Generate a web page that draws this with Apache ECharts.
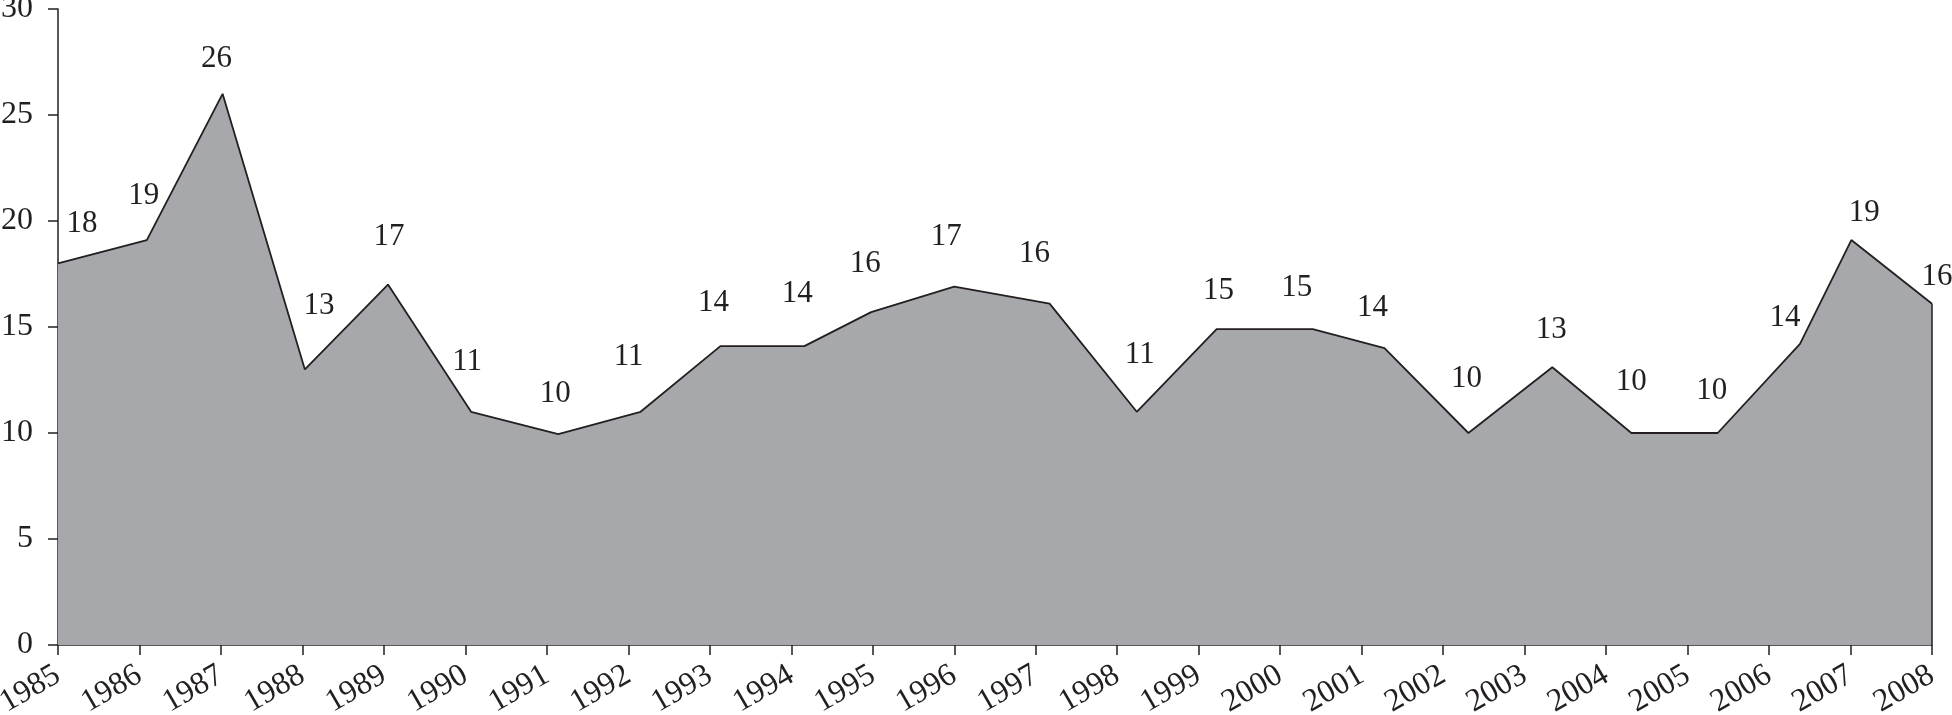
<!DOCTYPE html>
<html>
<head>
<meta charset="utf-8">
<script src="https://cdn.jsdelivr.net/npm/echarts@6/dist/echarts.min.js"></script>
<style>
html,body{margin:0;padding:0;background:#fff;}
#c{width:1952px;height:715px;}
</style>
</head>
<body>
<div id="c"></div>
<script>
// Year positions of each plotted point
const pointYears = [1985, 1986.09, 1987.02, 1988.03, 1989.05, 1990.07, 1991.14, 1992.15, 1993.13, 1994.16, 1994.98, 1996.0, 1997.17, 1998.24, 1999.22, 2000.40, 2001.28, 2002.31, 2003.34, 2004.31, 2005.37, 2006.38, 2007.01, 2008];
// Plotted values
const values = [18.0, 19.1, 26.0, 13.0, 17.0, 11.0, 9.95, 11.0, 14.1, 14.1, 15.7, 16.9, 16.1, 11.0, 14.9, 14.9, 14.0, 10.0, 13.1, 10.0, 10.0, 14.2, 19.1, 16.1];
// Printed value labels
const labels = ['18','19','26','13','17','11','10','11','14','14','16','17','16','11','15','15','14','10','13','10','10','14','19','16'];
// Axis ticks
const xMin = 1985, xMax = 2008, xStep = 1;
const yMin = 0, yMax = 30, yStep = 5;

// Layout only: small hand nudges (px) of the printed labels, as typeset in the original
const labelNudges = [[24,2],[-3,-3],[-6,7],[14,-22],[1,-6],[-4,-8],[-3,1],[-12,-13],[-7,-2],[-7,-11],[-6,-7],[-8,-8],[-15,-8],[3,-15],[2,3],[-16,0],[-12,1],[-2,-13],[-1,4],[0,-10],[-6,-1],[-15,15],[13,14],[5,15]];

const FONT = '"Liberation Serif", "Times New Roman", serif';
const INK = '#231f20';

const seriesData = pointYears.map((x, i) => ({
  value: [x, values[i]],
  label: { offset: labelNudges[i] }
}));

const chart = echarts.init(document.getElementById('c'), null, { renderer: 'canvas' });
chart.setOption({
  animation: false,
  backgroundColor: '#ffffff',
  grid: { left: 58, right: 20, top: 9, bottom: 70, containLabel: false, outerBoundsMode: 'none' },
  xAxis: {
    type: 'value',
    min: xMin, max: xMax, interval: xStep,
    axisLine: { show: true, onZero: false, lineStyle: { color: INK, width: 1.5 } },
    axisTick: { show: true, inside: false, length: 10, lineStyle: { color: INK, width: 1.5 } },
    splitLine: { show: false },
    axisLabel: {
      rotate: 30, margin: 28,
      fontFamily: FONT, fontSize: 32, color: INK,
      formatter: v => String(v)
    }
  },
  yAxis: {
    type: 'value',
    min: yMin, max: yMax, interval: yStep,
    axisLine: { show: true, lineStyle: { color: INK, width: 1.5 } },
    axisTick: { show: true, inside: false, length: 10, lineStyle: { color: INK, width: 1.5 } },
    splitLine: { show: false },
    axisLabel: { margin: 25, fontFamily: FONT, fontSize: 32, color: INK }
  },
  series: [{
    type: 'line',
    data: seriesData,
    smooth: false,
    symbol: 'circle',
    symbolSize: 0.1,
    showSymbol: true,
    itemStyle: { color: INK },
    lineStyle: { color: INK, width: 1.8 },
    areaStyle: { color: '#a7a8ab', opacity: 1 },
    label: {
      show: true, position: 'top', distance: 26,
      fontFamily: FONT, fontSize: 31, color: INK,
      formatter: p => labels[p.dataIndex]
    },
    markLine: {
      silent: true, symbol: 'none', label: { show: false },
      lineStyle: { color: INK, width: 1.5, type: 'solid' },
      data: [[
        { coord: [pointYears[pointYears.length - 1], yMin] },
        { coord: [pointYears[pointYears.length - 1], values[values.length - 1]] }
      ]]
    }
  }]
});
</script>
</body>
</html>
